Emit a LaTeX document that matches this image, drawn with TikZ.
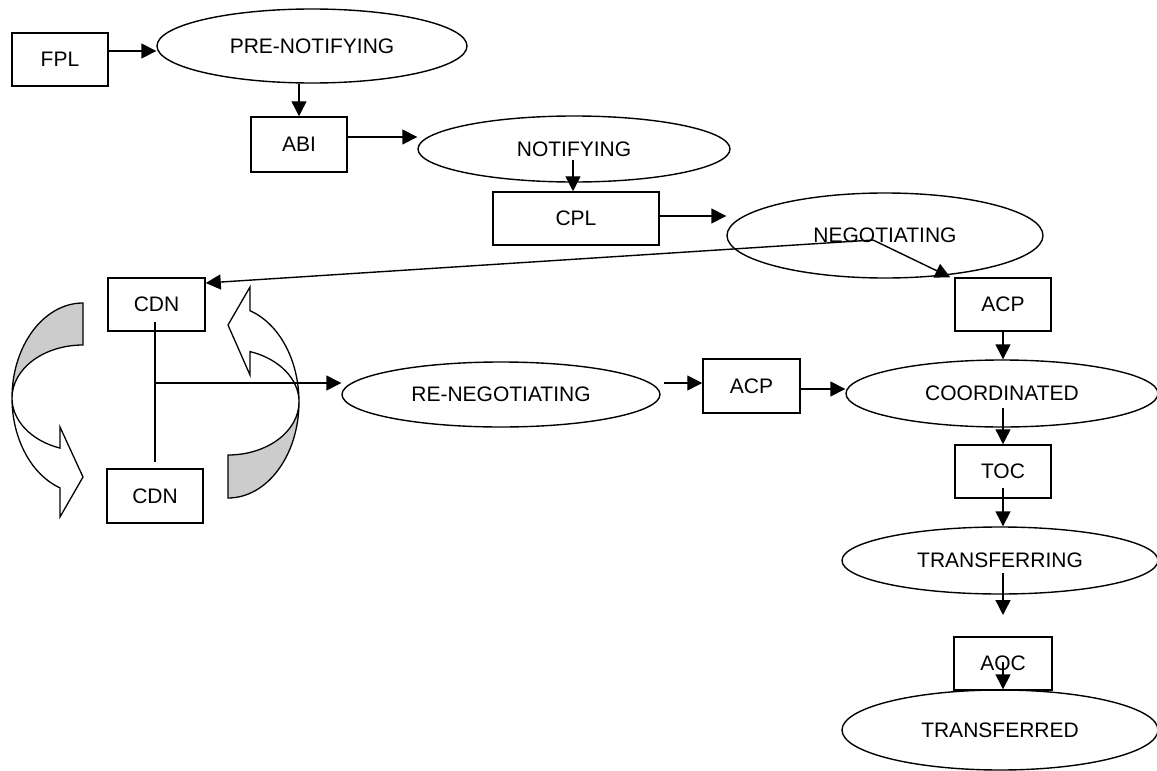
\documentclass[tikz,border=0pt]{standalone}
\usepackage{fontspec}
\setmainfont{Liberation Sans}
\usetikzlibrary{arrows.meta,shapes.geometric}
\begin{document}
\begin{tikzpicture}[x=1pt,y=-1pt,
  every node/.style={font=\fontsize{21}{25}\selectfont},
  box/.style={draw, line width=1.5pt, inner sep=0pt, minimum width=96pt, minimum height=53pt},
  oval/.style={draw, ellipse, line width=1.4pt, inner sep=0pt},
  arr/.style={line width=1.4pt, -{Triangle[length=15pt,width=15pt]}},
  ribbon/.style={draw, line width=1.3pt, line join=miter},
  back/.style={ribbon, fill=gray!40},
  front/.style={ribbon, fill=white}]
\useasboundingbox (0,0) rectangle (1157,771);

% curved arrows (left)
\path[back] (83,303) arc[start angle=-90, end angle=-180, x radius=71, y radius=95]
  arc[start angle=180, end angle=270, x radius=71, y radius=53] -- cycle;
\path[front] (12,398) arc[start angle=180, end angle=108.9, x radius=71, y radius=95]
  -- (60,517) -- (83,477) -- (60,427) -- (60,448.1)
  arc[start angle=108.9, end angle=180, x radius=71, y radius=53] -- cycle;
% curved arrows (right)
\path[back] (228,498) arc[start angle=90, end angle=0, x radius=71, y radius=96]
  arc[start angle=0, end angle=90, x radius=71, y radius=53] -- cycle;
\path[front] (299,402) arc[start angle=0, end angle=-72, x radius=71, y radius=96]
  -- (250,287) -- (228,325) -- (250,375) -- (250,351.6)
  arc[start angle=-72, end angle=0, x radius=71, y radius=53] -- cycle;

% nodes
\node[box] (fpl) at (60,59.5) {FPL};
\node[oval, minimum width=310pt, minimum height=74pt] (pre) at (312,46) {PRE-NOTIFYING};
\node[box, minimum height=55pt] (abi) at (299,144.5) {ABI};
\node[oval, minimum width=312pt, minimum height=66pt] (notif) at (574,149) {NOTIFYING};
\node[box, minimum width=166pt] (cpl) at (576,218.5) {CPL};
\node[oval, minimum width=316pt, minimum height=85pt] (neg) at (885,235.5) {NEGOTIATING};
\node[box, minimum width=97pt] (cdn1) at (156.5,304.5) {CDN};
\node[box, minimum height=54pt] (cdn2) at (155,496) {CDN};
\node[box] (acp) at (1003,304.5) {ACP};
\node[oval, minimum width=318pt, minimum height=65pt] (reneg) at (501,394.5) {RE-NEGOTIATING};
\node[box, minimum width=97pt, minimum height=54pt] (acp2) at (751.5,386) {ACP};
\node[oval, minimum width=312pt, minimum height=67pt] (coord) at (1002,393.5) {COORDINATED};
\node[box] (toc) at (1003,471.5) {TOC};
\node[oval, minimum width=316pt, minimum height=67pt] (trg) at (1000,560.5) {TRANSFERRING};
\node[box, minimum width=98pt] (aoc) at (1003,663.5) {AOC};
\node[oval, minimum width=316pt, minimum height=80pt] (trd) at (1000,730) {TRANSFERRED};

% helper coordinates
\coordinate (n1) at (573,160);
\coordinate (nb) at (873,240);
\coordinate (cl1) at (155,322);
\coordinate (cl2) at (155,462);
\coordinate (cl3) at (155,383);

% connectors
\draw[arr] (fpl.east |- 0,51) -- (pre.west |- 0,51);
\draw[arr] (abi.north |- pre.south) -- (abi.north);
\draw[arr] (abi.east |- 0,137) -- (notif.west |- 0,137);
\draw[arr] (n1) -- (n1 |- cpl.north);
\draw[arr] (cpl.east |- 0,216) -- (neg.west |- 0,216);
\draw[arr] (nb) -- (cdn1.east |- 0,283);
\draw[arr] (nb) -- ([xshift=-4pt]acp.north west);
\draw[line width=2.8pt] (cl1) -- (cl2);
\draw[arr] (cl3) -- (reneg.west |- cl3);
\draw[arr] ([xshift=3pt]reneg.east |- 0,383) -- (acp2.west |- 0,383);
\draw[arr] (acp2.east |- 0,389) -- (coord.west |- 0,389);
\draw[arr] (acp.south) -- (acp.south |- coord.north);
\draw[arr] (toc.north |- 0,408) -- (toc.north);
\draw[arr] (toc.south |- 0,488) -- (toc.south |- trg.north);
\draw[arr] (aoc.north |- 0,573) -- (aoc.north |- 0,615);
\draw[arr] (aoc.center |- 0,662) -- (aoc.center |- trd.north);
\end{tikzpicture}
\end{document}
